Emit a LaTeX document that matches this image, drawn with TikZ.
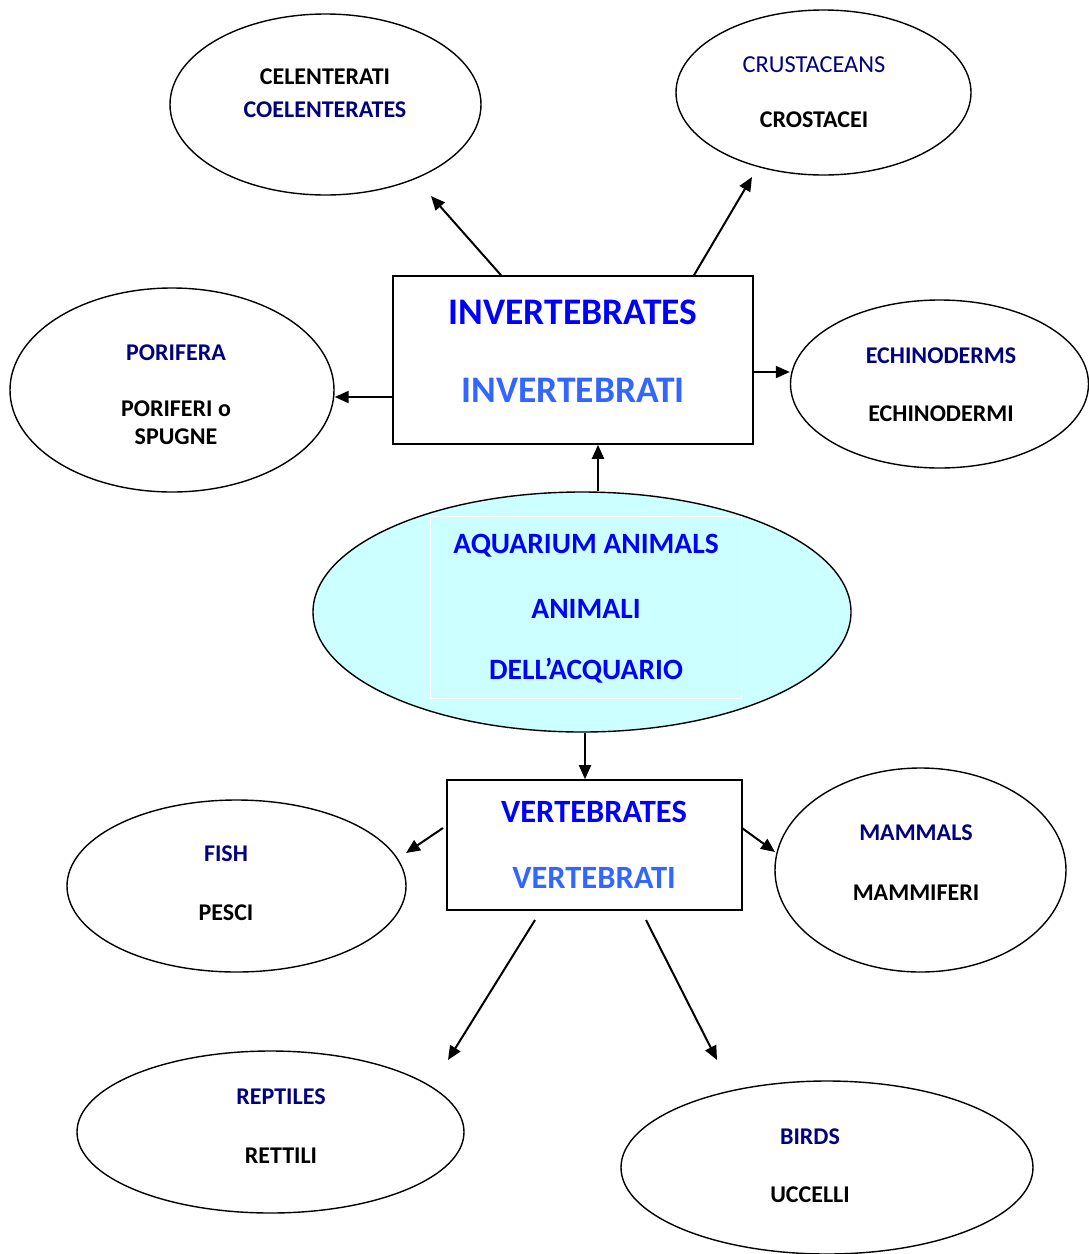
\documentclass[tikz,border=0pt]{standalone}
\usepackage{fontspec}
\setmainfont{Carlito}
\usetikzlibrary{arrows.meta,shapes.geometric}
\definecolor{navy}{HTML}{000080}
\definecolor{vivid}{HTML}{0000FF}
\definecolor{light}{HTML}{3366FF}
\definecolor{aqua}{HTML}{CCFFFF}
\tikzset{
  oval/.style={draw,line width=1.4pt,ellipse,inner sep=0pt},
  box/.style={draw,line width=1.6pt,rectangle,inner sep=0pt},
  arr/.style={line width=2pt,-{Triangle[length=14pt,width=12pt]}},
  sm/.style={font=\fontsize{24}{28}\selectfont\bfseries,inner sep=0pt},
  big/.style={font=\fontsize{37.5}{42}\selectfont\bfseries,inner sep=0pt},
  vbig/.style={font=\fontsize{32.5}{37}\selectfont\bfseries,inner sep=0pt},
  mid/.style={font=\fontsize{29.5}{34}\selectfont\bfseries,inner sep=0pt,text=vivid},
}
\begin{document}
\begin{tikzpicture}[x=1pt,y=-1pt]
\useasboundingbox (0,0) rectangle (1089,1254);
% shapes
\node[oval,minimum width=311pt,minimum height=181pt] (cel) at (325.5,104.5) {};
\node[oval,minimum width=295pt,minimum height=165pt] (cru) at (823.5,92.5) {};
\node[oval,minimum width=324pt,minimum height=204pt] (por) at (172,390) {};
\node[oval,minimum width=298pt,minimum height=168pt] (ech) at (939.5,384) {};
\node[box,minimum width=360pt,minimum height=168pt] (inv) at (573,360) {};
\node[oval,fill=aqua,minimum width=538pt,minimum height=240pt] (aq) at (582,612) {};
\node[draw=white,line width=1pt,minimum width=311pt,minimum height=182pt,inner sep=0pt] (aqr) at (585.5,607) {};
\node[box,minimum width=295pt,minimum height=130pt] (ver) at (594.5,845) {};
\node[oval,minimum width=339pt,minimum height=172pt] (fish) at (236.5,886) {};
\node[oval,minimum width=291pt,minimum height=204pt] (mam) at (920.5,870) {};
\node[oval,minimum width=387pt,minimum height=162pt] (rep) at (270.5,1132) {};
\node[oval,minimum width=412pt,minimum height=173pt] (bird) at (827,1167.5) {};
% texts
\node[sm] (t1) at (325,77) {CELENTERATI};
\node[sm,text=navy] (t2) at (325,110) {COELENTERATES};
\node[sm,font=\fontsize{24.4}{28}\selectfont,text=navy] (t3) at (814,65) {CRUSTACEANS};
\node[sm] (t4) at (814,120) {CROSTACEI};
\node[sm,text=navy] (t5) at (176,353) {PORIFERA};
\node[sm] (t6) at (176,409) {PORIFERI o};
\node[sm] (t7) at (176,437) {SPUGNE};
\node[sm,text=navy] (t8) at (941,356) {ECHINODERMS};
\node[sm] (t9) at (941,414) {ECHINODERMI};
\node[big,text=vivid] (t10) at (573,312) {INVERTEBRATES};
\node[big,text=light] (t11) at (573,390) {INVERTEBRATI};
\node[mid] (t12) at (586,546) {AQUARIUM ANIMALS};
\node[mid] (t13) at (586,609) {ANIMALI};
\node[mid] (t14) at (586,671) {DELL’ACQUARIO};
\node[vbig,text=vivid] (t15) at (594,812) {VERTEBRATES};
\node[vbig,text=light] (t16) at (594,878) {VERTEBRATI};
\node[sm,text=navy] (t17) at (226,854) {FISH};
\node[sm] (t18) at (226,913) {PESCI};
\node[sm,text=navy] (t19) at (916,833) {MAMMALS};
\node[sm] (t20) at (916,893) {MAMMIFERI};
\node[sm,text=navy] (t21) at (281,1097) {REPTILES};
\node[sm] (t22) at (281,1156) {RETTILI};
\node[sm,text=navy] (t23) at (810,1137) {BIRDS};
\node[sm] (t24) at (810,1195) {UCCELLI};
% connector ends
\coordinate (e1) at (431,196);
\coordinate (e2) at (752,177);
\coordinate (e3) at (443,828);
\coordinate (e4) at (742,828);
\coordinate (e5) at (406,853);
\coordinate (e6) at (775,852);
\coordinate (e7) at (535,920);
\coordinate (e8) at (646,920);
\coordinate (e9) at (448,1060);
\coordinate (e10) at (717,1060);
% connectors
\draw[arr] (inv.north -| 501,0) -- (e1);
\draw[arr] (inv.north -| 694,0) -- (e2);
\draw[arr] (inv.west |- 0,397) -- (por.east |- 0,397);
\draw[arr] (inv.east |- 0,372) -- (ech.west |- 0,372);
\draw[arr] (aq.north -| 598,0) -- (inv.south -| 598,0);
\draw[arr] (aq.south -| 585,0) -- (ver.north -| 585,0);
\draw[arr] (e3) -- (e5);
\draw[arr] (e4) -- (e6);
\draw[arr] (e7) -- (e9);
\draw[arr] (e8) -- (e10);
\end{tikzpicture}
\end{document}
